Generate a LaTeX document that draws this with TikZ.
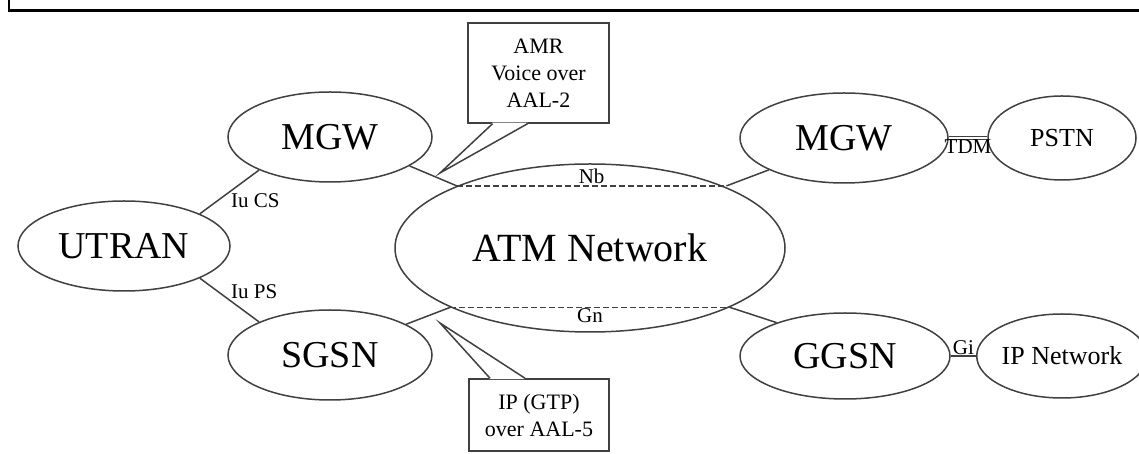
\documentclass[tikz,border=0pt]{standalone}
\usepackage{fontspec}
\setmainfont{Liberation Serif}
\usetikzlibrary{shapes.geometric}
\tikzset{
    net-node/.style = {draw=black!75, ellipse, line width=1.5pt, inner sep=0pt, font=\fontsize{38}{40}\selectfont},
    edge-node/.style = {net-node, font=\fontsize{26}{28}\selectfont},
    link/.style = {draw=black!75, line width=1.5pt},
    link-label/.style = {font=\fontsize{21}{23}\selectfont, inner sep=1pt},
    call-box/.style = {draw=black!75, line width=1.5pt, rectangle, align=center, inner sep=0pt, font=\fontsize{22}{27}\selectfont},
}

\begin{document}
\begin{tikzpicture}[x=1pt, y=1pt]
\useasboundingbox (0,0) rectangle (1139,454);
\draw [line width=2.5pt] (9,454) -- (9,443.5) -- (1139,443.5);

\node [net-node, minimum width=212pt, minimum height=90pt] (utran) at (124,208) {UTRAN};
\node [net-node, minimum width=204pt, minimum height=90pt] (mgw-a) at (330,317) {MGW};
\node [net-node, minimum width=204pt, minimum height=90pt] (sgsn) at (330,99) {SGSN};
\node [net-node, minimum width=390pt, minimum height=168pt, font=\fontsize{40}{42}\selectfont] (atm) at (590,206) {ATM Network};
\node [net-node, minimum width=208pt, minimum height=90pt] (mgw-b) at (844,316) {MGW};
\node [edge-node, minimum width=148pt, minimum height=84pt] (pstn) at (1062,316) {PSTN};
\node [net-node, minimum width=210pt, minimum height=86pt] (ggsn) at (845,98) {GGSN};
\node [edge-node, minimum width=150pt, minimum height=84pt] (ipnet) at (1062,98) {IP Network};

\draw [link] (utran.23) -- node[link-label, anchor=north west] {Iu CS} (mgw-a.205);
\draw [link] (utran.-23) -- node[link-label, anchor=south west] {Iu PS} (sgsn.155);
\draw [link] (mgw-a.-20) -- (atm.155.5);
\draw [link] (sgsn.22) -- (atm.203);
\draw [link] (mgw-b.203) -- (atm.155.5 -| atm.24.5);
\draw [link] (ggsn.154) -- (atm.203 -| atm.-23);
\draw [link, dash pattern=on 6pt off 3pt] (atm.155.5) -- node[link-label, above] {Nb} (atm.155.5 -| atm.24.5);
\draw [link, dash pattern=on 6pt off 3pt] (atm.203) -- node[link-label, below] {Gn} (atm.203 -| atm.-23);
\draw [link, line width=1pt, double, double distance=2pt] (mgw-b.east) -- node[link-label, below] {TDM} (pstn.west);
\draw [link] (ggsn.east) -- node[link-label, above] {Gi} (ipnet.west);

\node [call-box, minimum width=141pt, minimum height=100pt] (amr) at (538.5,381) {AMR\\Voice over\\AAL-2};
\coordinate (amr-tip) at (440,281);
\fill [white] ([xshift=-46pt, yshift=1pt]amr.south) -- (amr-tip) -- ([xshift=-11pt, yshift=1pt]amr.south) -- cycle;
\draw [link] ([xshift=-46pt]amr.south) -- (amr-tip) -- ([xshift=-11pt]amr.south);

\node [call-box, minimum width=140pt, minimum height=72pt] (gtp) at (539,39) {IP (GTP)\\over AAL-5};
\coordinate (gtp-tip) at (440,131);
\fill [white] ([xshift=-49pt, yshift=-1pt]gtp.north) -- (gtp-tip) -- ([xshift=-14pt, yshift=-1pt]gtp.north) -- cycle;
\draw [link] ([xshift=-49pt]gtp.north) -- (gtp-tip) -- ([xshift=-14pt]gtp.north);
\end{tikzpicture}
\end{document}
